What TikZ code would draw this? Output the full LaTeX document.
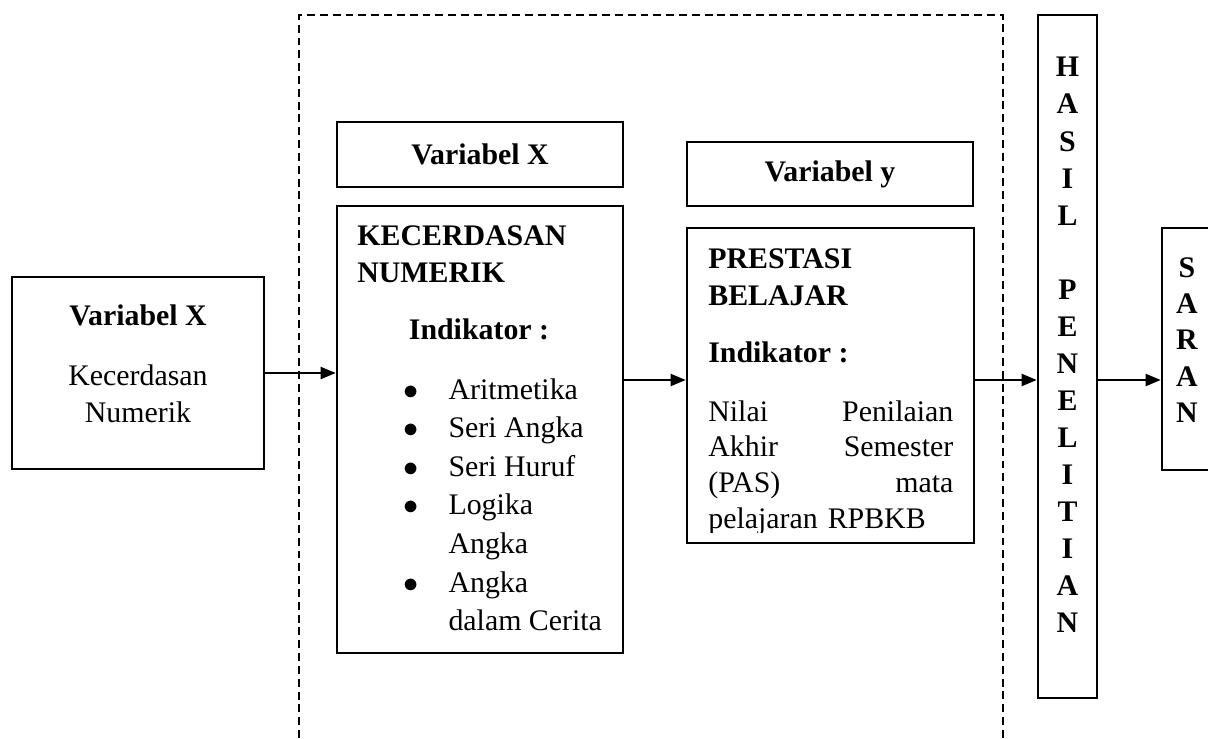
\documentclass[tikz,border=0pt]{standalone}
\usepackage{fontspec}
\setmainfont{Liberation Serif}
\usepackage{tikz}
\usetikzlibrary{arrows.meta}
\setlength{\parindent}{0pt}

\begin{document}
\begin{tikzpicture}[x=0.02cm, y=-0.02cm,
    every node/.style={font=\fontsize{17}{21.1}\selectfont, inner sep=0pt},
    box/.style={draw, line width=1.5pt, minimum width=5.72cm},
    arr/.style={-{Triangle[length=3mm,width=2.4mm]}, line width=1.1pt},
    dashline/.style={dash pattern=on 4.5pt off 2.8pt, line width=1pt}]
    \useasboundingbox (0,0) rectangle (1208,738);

    % dashed frame
    \draw[dashline] (299,738) -- (299,15) -- (1003,15) -- (1003,738);

    % boxes
    \node[box, minimum width=5.04cm, minimum height=3.84cm] (varx) at (138,373) {};
    \node[box, minimum height=1.3cm] (xhead) at (480,154.5) {\textbf{Variabel X}};
    \node[box, minimum height=8.94cm] (kec) at (480,429.5) {};
    \node[box, minimum height=1.28cm] (yhead) at (830,174) {\textbf{Variabel y}};
    \node[box, minimum width=5.74cm, minimum height=6.3cm] (pres) at (830.5,385.5) {};
    \node[box, minimum width=1.18cm, minimum height=13.66cm] (hasil) at (1067.5,356.5) {};
    \node[box, minimum width=1.26cm, minimum height=4.84cm] (saran) at (1193.5,349) {};

    % left box
    \node[anchor=north, align=center] (varxtxt) at (138,304.5) {\textbf{Variabel X}\\[0.46cm]Kecerdasan\\Numerik};

    % kecerdasan numerik
    \node[anchor=north west, align=left, font=\fontsize{17}{21.1}\selectfont\bfseries] (kectitle) at (357,225) {KECERDASAN\\NUMERIK};
    \node[anchor=base, font=\fontsize{17}{21.1}\selectfont\bfseries] (kecind) at (479,339) {Indikator :};
    \node[anchor=base west] (keclist) at (403,399) {\fontsize{17}{22}\selectfont
        \begin{tabular}[t]{@{}l@{\hspace{0.6cm}}l@{}}
        $\bullet$ & Aritmetika\\
        $\bullet$ & Seri Angka\\
        $\bullet$ & Seri Huruf\\
        $\bullet$ & Logika\\
                  & Angka\\
        $\bullet$ & Angka\\
                  & dalam Cerita
        \end{tabular}};

    % prestasi belajar
    \node[anchor=north west, align=left, font=\fontsize{17}{21.1}\selectfont\bfseries] (prestitle) at (708,248) {PRESTASI\\BELAJAR};
    \node[anchor=base west, font=\fontsize{17}{21.1}\selectfont\bfseries] (presind) at (708,362) {Indikator :};
    \begin{scope}
        \clip (687,228) rectangle (974,532);
        \node[anchor=north west, text width=4.9cm, align=left, font=\fontsize{17}{20.4}\selectfont] (prestxt) at (708,400)
            {Nilai \hfill Penilaian\\Akhir \hfill Semester\\(PAS) \hfill mata\\pelajaran RPBKB};
    \end{scope}

    % hasil penelitian, saran
    \node[anchor=north, align=center, font=\fontsize{17}{21.1}\selectfont\bfseries] (hasiltxt) at (1067.5,57)
        {H\\A\\S\\I\\L\\[21.1pt]P\\E\\N\\E\\L\\I\\T\\I\\A\\N};
    \node[anchor=north, align=center, font=\fontsize{17}{20.7}\selectfont\bfseries] (sarantxt) at (1187,257)
        {S\\A\\R\\A\\N};

    % arrows
    \coordinate (lvl) at (0,380);
    \draw[arr] (varx.east) -- (varx.east -| kec.west);
    \draw[arr] (kec.east |- lvl) -- (pres.west |- lvl);
    \draw[arr] (pres.east |- lvl) -- (hasil.west |- lvl);
    \draw[arr] (hasil.east |- lvl) -- (saran.west |- lvl);
\end{tikzpicture}
\end{document}
